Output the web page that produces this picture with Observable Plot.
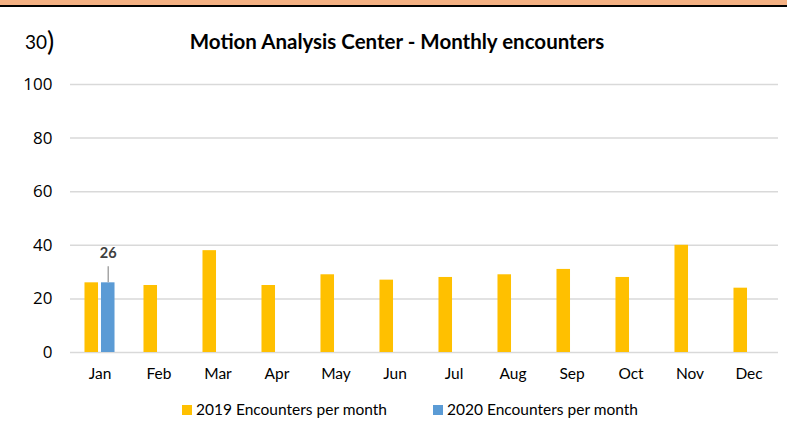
<!DOCTYPE html>
<html><head><meta charset="utf-8">
<script src="https://cdn.jsdelivr.net/npm/d3@7"></script>
<script src="https://cdn.jsdelivr.net/npm/@observablehq/plot@0.6"></script>
<style>
html,body{margin:0;padding:0;background:#fff;overflow:hidden;font-family:Lato, "Open Sans", sans-serif;}
#wrap{position:relative;width:787px;height:435px;overflow:hidden;background:#fff}
#band{position:absolute;left:0;top:0;width:787px;height:5px;background:#F4B183;border-bottom:2px solid #000}
#num{position:absolute;left:25px;top:27px;font-size:19px;color:#000;line-height:28px;white-space:nowrap}
#num .p{font-size:27px;vertical-align:-2px}
#title{position:absolute;left:0;width:794px;top:29px;text-align:center;font-size:20.5px;font-weight:bold;color:#000;line-height:24px;white-space:nowrap}
#chart{position:absolute;left:0;top:70px}
#chart g[aria-label="y-axis tick label"], #chart g[aria-label="y-axis tick label"] text{font-family:"Open Sans", sans-serif !important;font-size:17px !important}
#legend{position:absolute;top:400px;left:0;width:787px;height:20px;font-size:15.5px;color:#000}
.li{position:absolute;top:0;line-height:18px;white-space:nowrap}
.sw{display:inline-block;width:10px;height:10px;margin-right:4px;vertical-align:0px}
</style>
</head><body>
<div id="wrap">
  <div id="band"></div>
  <div id="num">30<span class="p">)</span></div>
  <div id="title"></div>
  <div id="chart"></div>
  <div id="legend"></div>
</div>
<script>
const titleText = "Motion Analysis Center - Monthly encounters";
const months = ["Jan","Feb","Mar","Apr","May","Jun","Jul","Aug","Sep","Oct","Nov","Dec"];
const seriesNames = ["2019 Encounters per month","2020 Encounters per month"];
const seriesColors = ["#FFC000","#5B9BD5"];
const values2019 = [26,25,38,25,29,27,28,29,31,28,40,24];
const values2020 = [26];
const yTicks = [0,20,40,60,80,100];

document.getElementById("title").textContent = titleText;

const data = [
  ...values2019.map((v,i)=>({month:months[i], series:seriesNames[0], value:v})),
  ...values2020.map((v,i)=>({month:months[i], series:seriesNames[1], value:v}))
];
const labeled = data.filter(d => d.series === seriesNames[1]);

const chart = Plot.plot({
  width:787, height:320,
  marginLeft:70, marginRight:9, marginTop:14, marginBottom:38,
  style:{fontFamily:"Lato, 'Open Sans', sans-serif", color:"#000", background:"transparent", overflow:"visible"},
  fx:{domain:months, paddingInner:0, paddingOuter:0, round:false, label:null},
  x:{domain:seriesNames, paddingInner:0.18, paddingOuter:0.878, round:false, axis:null},
  y:{domain:[0,100], label:null},
  color:{domain:seriesNames, range:seriesColors},
  marks:[
    Plot.gridY(yTicks, {stroke:"#d9d9d9", strokeOpacity:1, strokeWidth:1.5}),
    Plot.axisY(yTicks, {tickSize:0, tickPadding:18, fontSize:17, fontFamily:"'Open Sans', sans-serif", label:null, fill:"#000"}),
    Plot.axisFx({anchor:"bottom", tickSize:0, tickPadding:15, fontSize:15.5, label:null, fill:"#000"}),
    Plot.barY(data, {fx:"month", x:"series", y:"value", fill:"series"}),
    Plot.ruleX(labeled, {fx:"month", x:"series", y1:"value", y2:d=>d.value+6, stroke:"#a6a6a6", strokeWidth:1.5}),
    Plot.text(labeled, {fx:"month", x:"series", y:"value", text:d=>String(d.value), dy:-29, fontWeight:"bold", fill:"#404040", fontSize:14.5})
  ]
});
document.getElementById("chart").appendChild(chart);

const legend = document.getElementById("legend");
const legendX = [182, 433];
seriesNames.forEach((s,i)=>{
  const item = document.createElement("div");
  item.className = "li";
  item.style.left = legendX[i] + "px";
  const sw = document.createElement("span");
  sw.className = "sw";
  sw.style.background = seriesColors[i];
  item.appendChild(sw);
  item.appendChild(document.createTextNode(s));
  legend.appendChild(item);
});
</script>
</body></html>
